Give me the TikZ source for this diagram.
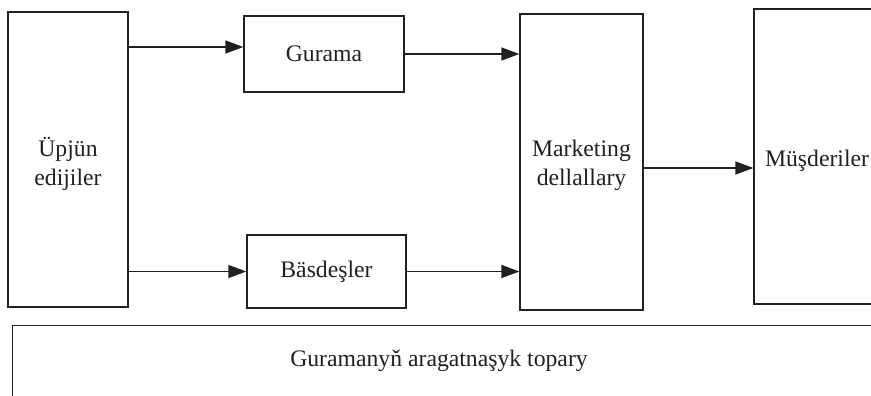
\documentclass[tikz,border=0pt]{standalone}
\usepackage{fontspec}
\setmainfont{Liberation Serif}
\usetikzlibrary{arrows.meta}
\definecolor{ink}{HTML}{231F20}
\newcommand{\lift}[1]{\rule{0pt}{#1}}
\begin{document}
\begin{tikzpicture}[x=1pt,y=-1pt,
  box/.style={draw=ink,line width=1.3pt,rectangle,inner sep=0pt,align=center,text=ink,
    font=\fontsize{23.7}{29}\selectfont},
  lbl/.style={inner sep=0pt,text=ink,font=\fontsize{23.7}{29}\selectfont},
  arr/.style={draw=ink,line width=1.3pt,-{Triangle[length=18pt,width=13pt]}}]
\useasboundingbox (0,0) rectangle (871,396);
\clip (0,0) rectangle (871,396);
\node[box,minimum width=120pt,minimum height=295pt] (sup) at (68,159.5) {\lift{29pt}Üpjün\\edijiler};
\node[box,minimum width=160pt,minimum height=76pt] (gur) at (324,54) {Gurama};
\node[box,minimum width=159pt,minimum height=73pt] (bas) at (326.5,271.5) {Bäsdeşler};
\node[box,minimum width=123pt,minimum height=296pt] (mkt) at (581.5,162) {\lift{24pt}Marketing\\dellallary};
\node[box,minimum width=126pt,minimum height=295pt] (cus) at (817,156.5) {\lift{26pt}Müşderiler};
\node[box,minimum width=900pt,minimum height=100pt,anchor=north west] (team) at (12,325) {};
\node[lbl] (teamtxt) at (439,361) {Guramanyň aragatnaşyk topary};
\draw[arr] (sup.east |- 0,47) -- (gur.west |- 0,47);
\draw[arr] (gur.east) -- (mkt.west |- gur.east);
\draw[arr] (sup.east |- bas.west) -- (bas.west);
\draw[arr] (bas.east) -- (mkt.west |- bas.east);
\draw[arr] (mkt.east |- 0,168) -- (cus.west |- 0,168);
\end{tikzpicture}
\end{document}
